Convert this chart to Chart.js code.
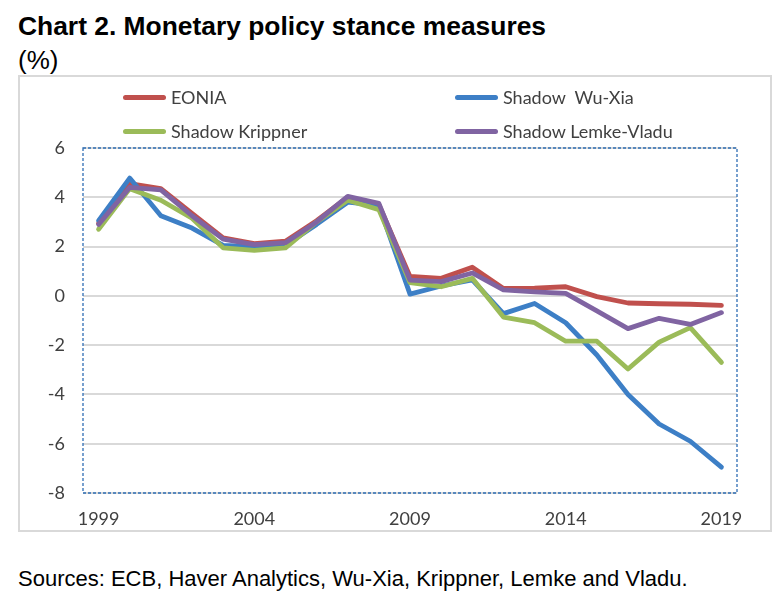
<!DOCTYPE html>
<html>
<head>
<meta charset="utf-8">
<script src="https://cdn.jsdelivr.net/npm/chart.js@4"></script>
<style>
  body { margin: 0; background: #fff; width: 781px; height: 606px; position: relative; overflow: hidden; }
  .title { position: absolute; left: 18px; top: 11px; font: bold 26.4px "Liberation Sans", Arial, sans-serif; color: #000; }
  .unit { position: absolute; left: 18px; top: 45px; font: 26px "Liberation Sans", Arial, sans-serif; color: #000; }
  .source { position: absolute; left: 18px; top: 566px; font: 22px "Liberation Sans", Arial, sans-serif; color: #000; }
  .box { position: absolute; left: 18px; top: 75px; width: 750px; height: 453px; border: 2px solid #d9d9d9; }
  .wrap { position: absolute; left: 18px; top: 75px; width: 754px; height: 457px; }
  .legend-item { position: absolute; font: 18px Lato, sans-serif; color: #404040; white-space: pre; display: flex; align-items: center; }
  .legend-item span.swatch { display: inline-block; width: 43px; height: 5px; border-radius: 3px; margin-right: 5px; }
</style>
</head>
<body>
<div class="title">Chart 2. Monetary policy stance measures</div>
<div class="unit">(%)</div>
<div class="box"></div>
<div class="wrap"><canvas id="myChart"></canvas></div>
<div id="legend"></div>
<div class="source">Sources: ECB, Haver Analytics, Wu-Xia, Krippner, Lemke and Vladu.</div>
<script>
const years = ['1999','2000','2001','2002','2003','2004','2005','2006','2007','2008','2009',
               '2010','2011','2012','2013','2014','2015','2016','2017','2018','2019'];
const eonia    = [2.95, 4.55, 4.35, 3.35, 2.35, 2.12, 2.22, 3.05, 4.0, 3.7, 0.79, 0.71, 1.16, 0.3, 0.31, 0.37, -0.03, -0.29, -0.32, -0.34, -0.39];
const wuXia    = [3.05, 4.78, 3.25, 2.75, 2.05, 2.0, 2.05, 2.9, 3.8, 3.67, 0.07, 0.4, 0.65, -0.72, -0.31, -1.09, -2.4, -4.0, -5.2, -5.9, -6.95];
const krippner = [2.7, 4.35, 3.88, 3.15, 1.95, 1.85, 1.95, 3.0, 3.88, 3.5, 0.54, 0.37, 0.71, -0.86, -1.09, -1.84, -1.84, -2.97, -1.88, -1.29, -2.7];
const lemke    = [2.9, 4.4, 4.3, 3.25, 2.3, 2.08, 2.16, 3.0, 4.04, 3.75, 0.64, 0.58, 0.93, 0.24, 0.16, 0.1, -0.61, -1.33, -0.91, -1.16, -0.68];
const yTicks   = [6, 4, 2, 0, -2, -4, -6, -8];

const series = [
  { label: 'EONIA', data: eonia, color: '#c0504d', order: 4 },
  { label: 'Shadow  Wu-Xia', data: wuXia, color: '#3d7fc6', order: 3 },
  { label: 'Shadow Krippner', data: krippner, color: '#9bbb59', order: 2 },
  { label: 'Shadow Lemke-Vladu', data: lemke, color: '#8064a2', order: 1 }
];

// dashed frame round the plot area
const frame = {
  id: 'frame',
  afterDatasetsDraw(chart) {
    const a = chart.chartArea, c = chart.ctx;
    c.save();
    c.strokeStyle = '#2e6db4';
    c.lineWidth = 1.3;
    c.setLineDash([3, 2]);
    c.strokeRect(a.left, a.top, a.right - a.left, a.bottom - a.top);
    c.restore();
  }
};

const ctx = document.getElementById('myChart').getContext('2d');
const chart = new Chart(ctx, {
  type: 'line',
  data: {
    labels: years,
    datasets: series.map(s => ({
      label: s.label,
      data: s.data,
      borderColor: s.color,
      backgroundColor: s.color,
      borderWidth: 4.8,
      pointRadius: 0,
      tension: 0,
      order: s.order,
      borderCapStyle: 'round',
      borderJoinStyle: 'round'
    }))
  },
  options: {
    responsive: true,
    maintainAspectRatio: false,
    animation: false,
    layout: { padding: { left: 0, top: 73, right: 35, bottom: 0 } },
    plugins: { legend: { display: false }, tooltip: { enabled: false } },
    scales: {
      x: {
        offset: true,
        grid: { display: false },
        border: { display: false },
        afterFit: s => { s.height = 39; },
        ticks: {
          autoSkip: false,
          maxRotation: 0,
          padding: 7,
          color: '#404040',
          font: { family: 'Lato', size: 18 },
          callback: (v, i) => (i % 5 === 0 ? years[i] : '')
        }
      },
      y: {
        min: -8,
        max: 6,
        afterFit: s => { s.width = 65; },
        afterBuildTicks: s => { s.ticks = yTicks.map(v => ({ value: v })); },
        grid: { color: '#d9d9d9', lineWidth: 2, drawTicks: false },
        border: { display: false },
        ticks: {
          padding: 18,
          color: '#404040',
          font: { family: 'Lato', size: 18 }
        }
      }
    }
  },
  plugins: [frame]
});

// legend in two columns, built from the datasets
const legendPos = [[123, 98], [455, 98], [123, 132], [455, 132]];
const legend = document.getElementById('legend');
chart.data.datasets.forEach((ds, i) => {
  const item = document.createElement('div');
  item.className = 'legend-item';
  item.style.left = legendPos[i][0] + 'px';
  item.style.top = (legendPos[i][1] - 12) + 'px';
  item.innerHTML = '<span class="swatch" style="background:' + ds.borderColor + '"></span>' + ds.label;
  legend.appendChild(item);
});
</script>
</body>
</html>
